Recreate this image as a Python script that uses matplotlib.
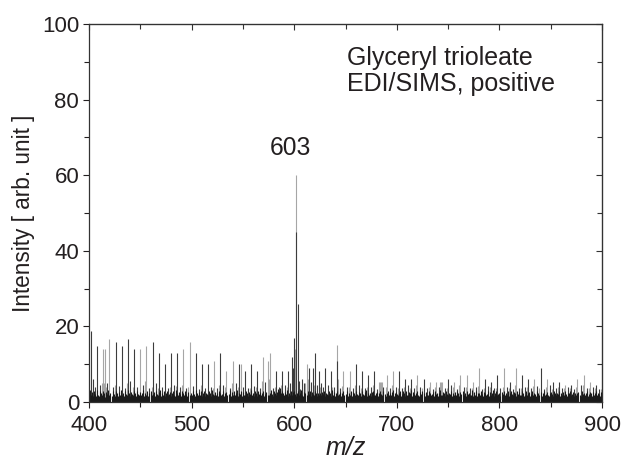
import numpy as np
from matplotlib import pyplot as plt
from matplotlib.ticker import MultipleLocator

plt.rcParams['font.family'] = ['Liberation Sans', 'DejaVu Sans']

# --- tall peaks, dark series (m/z, intensity) ---
dark_mz = [402, 408, 426, 432, 438, 444, 462, 468, 474, 480, 486, 504, 510, 516,
           528, 546, 552, 558, 564, 582, 588, 594, 598, 600, 602, 604, 605, 614,
           618, 620, 624, 630, 636, 642, 660, 666, 672, 678, 702, 708, 714, 726,
           750, 786, 792, 798, 810, 822, 828, 840, 852, 858, 870, 894]
dark_int = [18.8, 14.8, 15.8, 14.8, 16.8, 14.0, 15.8, 13.0, 10.2, 13.0, 13.1, 13.0, 10.2, 10.2,
            13.0, 10.1, 8.2, 10.1, 8.2, 8.2, 8.2, 8.2, 11.9, 16.9, 45.0, 26.0, 5.7, 9.1,
            9.1, 13.0, 8.2, 9.1, 8.2, 10.9, 10.1, 8.2, 7.2, 8.2, 8.2, 6.1, 6.1, 6.1,
            6.1, 6.1, 5.3, 7.2, 5.3, 7.2, 6.1, 9.1, 5.3, 5.3, 4.4, 4.4]

# --- tall peaks, light series ---
light_mz = [414, 416, 420, 450, 456, 492, 498, 522, 534, 540, 548, 570, 574, 576,
            601, 602, 612, 642, 648, 654, 684, 685, 690, 696, 720, 732, 738, 742,
            744, 756, 762, 768, 774, 780, 804, 816, 834, 846, 864, 876, 882, 888]
light_int = [14.0, 14.0, 16.8, 14.0, 14.8, 14.0, 15.8, 10.8, 8.2, 10.9, 10.1, 11.9, 10.9, 13.0,
             14.0, 60.0, 10.1, 15.1, 8.2, 8.2, 5.3, 5.3, 7.2, 8.2, 7.2, 5.3, 5.3, 5.3,
             5.3, 5.3, 7.2, 7.2, 5.3, 9.1, 9.1, 9.1, 6.1, 6.1, 4.4, 6.1, 7.2, 5.3]

# --- medium peaks ---
dmid_mz = [404, 406, 411, 418, 423, 429, 435, 440, 447, 453, 459, 465, 471, 477, 483, 489,
           495, 501, 507, 513, 519, 525, 531, 537, 543, 550, 555, 561, 567, 572, 579, 585,
           591, 596, 599, 606, 608, 610, 616, 622, 626, 628, 633, 639, 645, 651, 657, 663,
           669, 675, 681, 687, 693, 699, 705, 711, 717, 723, 729, 735, 741, 747, 753, 759,
           765, 771, 777, 783, 789, 795, 801, 807, 813, 819, 825, 831, 837, 843, 849, 855,
           861, 867, 873, 879, 885, 891, 897]
dmid_int = [6.0, 4.0, 4.5, 5.0, 4.0, 4.2, 3.8, 5.5, 4.0, 4.6, 3.8, 5.0, 4.0, 3.6, 4.5, 4.0,
            3.8, 4.2, 3.5, 3.6, 4.0, 3.8, 4.4, 3.6, 5.0, 4.0, 3.6, 4.2, 3.8, 5.3, 3.6, 4.0,
            4.4, 5.0, 9.0, 3.5, 6.0, 5.0, 5.3, 4.4, 5.0, 4.0, 4.5, 4.0, 3.6, 4.0, 3.8, 4.4,
            3.6, 4.0, 3.5, 4.0, 3.6, 4.0, 3.8, 4.4, 3.6, 4.0, 3.8, 3.5, 4.0, 3.6, 4.4, 3.5,
            4.0, 3.6, 4.0, 3.5, 4.2, 3.6, 3.8, 4.0, 3.5, 3.8, 4.0, 3.6, 4.2, 3.5, 4.4, 3.6,
            3.8, 4.0, 3.5, 4.4, 3.6, 4.0, 3.5]
lmid_mz = [413, 415, 417, 425, 437, 443, 455, 461, 467, 479, 485, 491, 497, 509, 521, 527,
           533, 539, 545, 557, 563, 569, 575, 581, 587, 593, 611, 613, 619, 625, 637, 643,
           647, 653, 659, 665, 671, 677, 683, 686, 689, 695, 701, 707, 713, 719, 725, 731,
           737, 743, 749, 755, 761, 767, 773, 779, 785, 791, 797, 803, 809, 815, 821, 827,
           833, 839, 845, 851, 857, 863, 869, 875, 881, 887, 893, 899]
lmid_int = [5.0, 5.0, 4.0, 4.5, 5.0, 4.0, 5.5, 4.0, 3.8, 4.0, 4.3, 4.5, 4.0, 4.4, 3.8, 4.5,
            4.0, 5.0, 4.0, 3.8, 4.0, 5.5, 6.0, 4.0, 4.5, 4.0, 5.0, 6.0, 4.5, 4.0, 4.0, 6.0,
            4.3, 4.0, 4.5, 3.6, 4.0, 4.5, 5.3, 5.3, 4.0, 4.4, 3.8, 4.0, 3.6, 4.5, 3.6, 4.0,
            4.0, 5.3, 3.6, 4.0, 4.5, 4.0, 3.6, 4.2, 3.6, 4.0, 3.8, 4.0, 3.6, 4.4, 3.8, 4.0,
            4.3, 3.6, 4.0, 3.5, 4.0, 3.6, 3.8, 4.0, 4.4, 3.6, 3.8, 3.5]

# --- baseline, one value per m/z from 400 to 900 ---
base_mz = np.arange(400, 901)
base_int = [
    2.4, 3.1, 1.8, 2.6, 1.5, 2.9, 2.2, 1.7, 3.3, 2.0, 1.6, 2.8, 2.3, 1.9, 3.0, 2.5, 1.4, 2.7, 2.1, 3.2, 1.8, 2.4, 1.6, 2.9, 2.2,
    1.7, 3.0, 2.3, 1.5, 2.6, 2.0, 3.2, 1.9, 2.4, 1.6, 2.8, 2.2, 1.8, 3.1, 2.5, 1.5, 2.7, 2.1, 1.9, 2.9, 2.4, 1.6, 3.0, 2.2, 1.8,
    2.6, 1.9, 2.3, 3.1, 1.7, 2.5, 2.0, 2.8, 1.6, 2.4, 3.0, 1.8, 2.2, 2.7, 1.5, 2.9, 2.1, 1.9, 2.6, 3.2, 1.7, 2.3, 2.0, 2.8, 1.6,
    2.5, 3.0, 1.8, 2.2, 2.7, 1.5, 2.4, 2.9, 2.0, 1.7, 3.1, 2.3, 1.9, 2.6, 2.1, 1.6, 2.8, 2.4, 1.8, 3.0, 2.2, 1.5, 2.7, 2.0, 2.5,
    1.9, 2.8, 2.2, 1.6, 3.2, 2.4, 1.8, 2.6, 2.0, 2.9, 1.5, 2.3, 3.0, 1.7, 2.5, 2.1, 1.9, 2.8, 2.4, 1.6, 3.1, 2.2, 1.8, 2.7, 2.0,
    2.3, 1.6, 2.9, 2.5, 1.8, 2.1, 3.0, 1.7, 2.4, 2.7, 1.9, 2.2, 3.2, 1.5, 2.6, 2.0, 2.8, 1.8, 2.3, 3.1, 1.6, 2.5, 2.1, 2.9, 1.7,
    2.7, 2.0, 1.8, 3.0, 2.4, 1.6, 2.6, 2.2, 3.3, 1.9, 2.5, 1.7, 2.8, 2.3, 1.5, 3.0, 2.1, 2.6, 1.8, 2.4, 2.9, 1.6, 2.2, 2.7, 2.0,
    1.8, 2.5, 3.1, 2.2, 1.7, 2.9, 2.4, 1.9, 2.6, 3.4, 2.8, 3.6, 2.3, 3.0, 2.5, 1.8, 2.7, 2.1, 3.2, 1.6, 2.4, 2.0, 2.8, 1.9, 2.6,
    3.0, 2.2, 1.7, 2.5, 2.9, 1.8, 2.3, 3.1, 2.0, 1.6, 2.7, 2.4, 1.9, 2.8, 2.1, 3.0, 1.5, 2.6, 2.2, 1.8, 2.9, 2.3, 1.7, 2.5, 2.0,
    2.4, 1.9, 2.7, 2.1, 3.0, 1.6, 2.5, 2.2, 1.8, 2.8, 2.3, 1.5, 3.1, 2.0, 2.6, 1.7, 2.4, 2.9, 1.9, 2.2, 2.7, 1.6, 2.5, 3.0, 1.8,
    2.2, 2.8, 1.7, 2.4, 2.0, 2.9, 1.6, 2.6, 2.3, 1.9, 3.0, 2.1, 1.8, 2.7, 2.4, 1.5, 2.8, 2.2, 1.9, 2.6, 3.1, 1.7, 2.3, 2.0, 2.5,
    1.6, 2.6, 2.9, 2.0, 1.8, 2.4, 2.7, 1.5, 2.3, 3.0, 2.1, 1.9, 2.8, 2.2, 1.7, 2.5, 2.9, 1.8, 2.4, 2.0, 2.6, 3.1, 1.6, 2.3, 2.7,
    2.1, 1.8, 2.5, 3.0, 1.7, 2.2, 2.8, 2.4, 1.6, 2.9, 2.0, 1.9, 2.6, 2.3, 3.1, 1.5, 2.7, 2.1, 1.8, 2.4, 2.8, 2.0, 1.7, 2.6, 2.2,
    2.8, 2.3, 1.6, 2.7, 2.0, 1.9, 3.0, 2.4, 1.8, 2.2, 2.6, 1.5, 2.9, 2.1, 2.5, 1.7, 2.3, 3.1, 1.9, 2.0, 2.7, 2.4, 1.6, 2.8, 2.2,
    1.9, 2.5, 2.2, 2.9, 1.6, 2.4, 2.0, 2.7, 1.8, 3.0, 2.3, 1.5, 2.6, 2.1, 2.8, 1.9, 2.4, 1.7, 2.9, 2.2, 2.5, 1.8, 2.0, 3.1, 1.6,
    2.6, 2.0, 2.8, 1.7, 2.3, 2.5, 1.9, 3.0, 2.1, 1.6, 2.7, 2.4, 1.8, 2.2, 2.9, 1.5, 2.6, 2.0, 2.4, 3.1, 1.7, 2.3, 2.8, 1.9, 2.1,
    2.3, 1.7, 2.6, 2.2, 3.0, 1.8, 2.5, 2.0, 2.8, 1.6, 2.4, 2.9, 2.1, 1.9, 2.7, 2.3, 1.5, 3.0, 2.2, 2.6, 1.8, 2.0, 2.8, 2.4, 1.7,
    2.0, 2.9, 1.8, 2.4, 2.6, 1.6, 2.2, 3.0, 1.9, 2.5, 2.1, 1.7, 2.8, 2.3, 2.0, 2.6, 1.5, 2.4, 2.9, 1.8, 2.2, 2.7, 2.0, 1.6, 2.5,
    2.7, 2.1, 1.6, 2.8, 2.3, 1.9, 2.5, 2.2, 3.0, 1.7, 2.4, 2.0, 2.6, 1.8, 2.9, 2.1, 1.6, 2.5, 2.3, 2.8, 1.9, 2.2, 2.6, 1.7, 2.4,
    1.8, 2.4, 2.7, 2.0, 1.6, 2.9, 2.2, 2.5, 1.9, 2.3, 2.8, 1.7, 2.1, 2.6, 2.4, 1.5, 2.7, 2.0, 2.3, 2.9, 1.8, 2.5, 2.2, 1.6, 2.6,
    2.3,
]

txt = '#231f20'

fig = plt.figure(figsize=(6.22, 4.59), dpi=100)
ax = fig.add_axes([0.143, 0.124, 0.825, 0.824])

lw = 0.8
ax.vlines(light_mz, 0, light_int, color='#a6a6a6', linewidth=lw)
ax.vlines(lmid_mz, 0, lmid_int, color='#a6a6a6', linewidth=lw)
ax.vlines(dark_mz, 0, dark_int, color='#3c3c3c', linewidth=lw)
ax.vlines(dmid_mz, 0, dmid_int, color='#3c3c3c', linewidth=lw)
ax.vlines(base_mz, 0, base_int, color='#1a1a1a', linewidth=lw)

ax.set_xlim(400, 900)
ax.set_ylim(0, 100)
ax.xaxis.set_major_locator(MultipleLocator(100))
ax.xaxis.set_minor_locator(MultipleLocator(50))
ax.yaxis.set_major_locator(MultipleLocator(20))
ax.yaxis.set_minor_locator(MultipleLocator(10))
ax.tick_params(which='both', direction='out', labelsize=16, colors=txt, width=0.8, pad=2.5)
ax.tick_params(axis='x', which='both', pad=4.5)
ax.tick_params(which='major', length=4.5)
ax.tick_params(which='minor', length=3.5)
for s in ax.spines.values():
    s.set_linewidth(0.9)
    s.set_color('#333333')

# inward ticks on top and right
top = ax.secondary_xaxis('top')
top.xaxis.set_major_locator(MultipleLocator(100))
top.xaxis.set_minor_locator(MultipleLocator(50))
top.tick_params(which='both', direction='in', labeltop=False, width=0.8, color='#333333')
top.tick_params(which='major', length=4.5)
top.tick_params(which='minor', length=3.5)
right = ax.secondary_yaxis('right')
right.yaxis.set_major_locator(MultipleLocator(20))
right.yaxis.set_minor_locator(MultipleLocator(10))
right.tick_params(which='both', direction='in', labelright=False, width=0.8, color='#333333')
right.tick_params(which='major', length=4.5)
right.tick_params(which='minor', length=3.5)

ax.set_xlabel('m/z', fontsize=18, style='italic', color=txt, labelpad=0)
ax.set_ylabel('Intensity [ arb. unit ]', fontsize=16.3, color=txt, labelpad=5)

ax.text(651.5, 89.2, 'Glyceryl trioleate', fontsize=18, color=txt, va='baseline')
ax.text(651.5, 82.3, 'EDI/SIMS, positive', fontsize=18, color=txt, va='baseline')
ax.text(596, 65.3, '603', fontsize=17.7, color=txt, ha='center', va='baseline')

plt.savefig('out.png', dpi=100)
